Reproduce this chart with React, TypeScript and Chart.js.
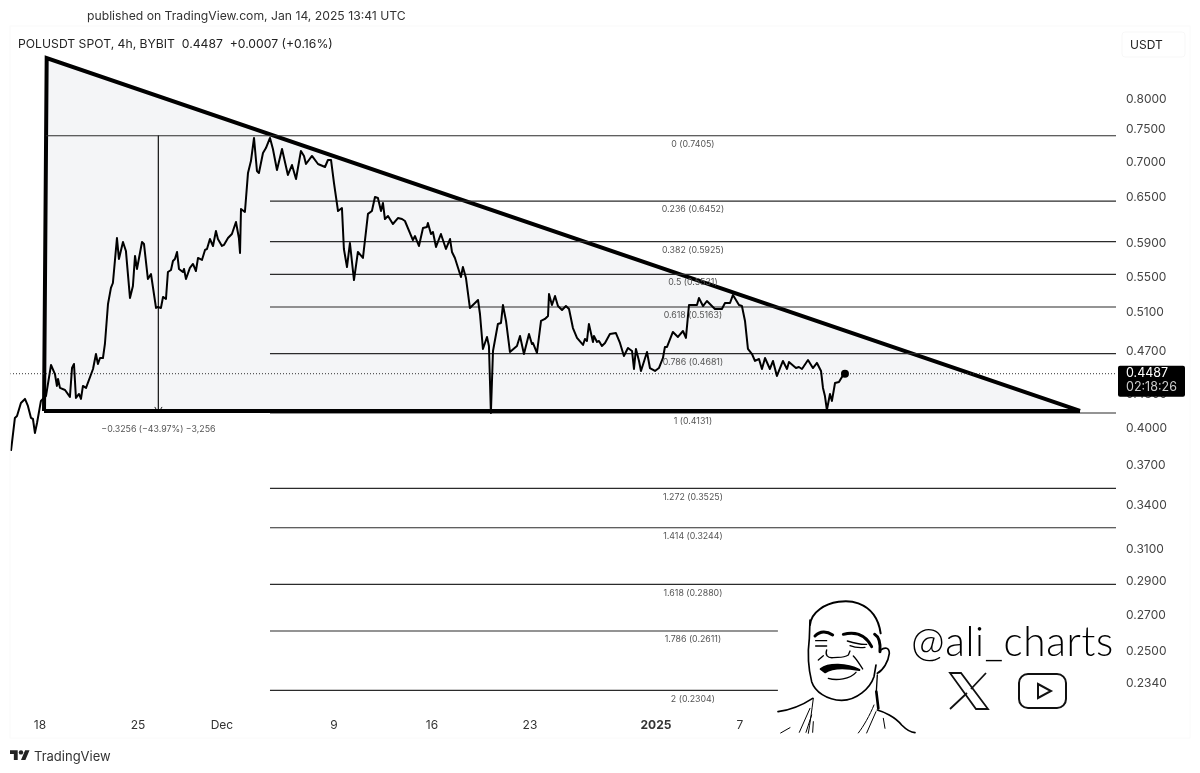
import { useEffect, useRef } from "react";
import { Chart, registerables } from "chart.js";

Chart.register(...registerables);

const FONT = "Inter, 'Noto Sans', sans-serif";

// days counted from Nov 18
const priceDays = [
  -2.07, -1.79, -1.64, -1.36, -1.07, -0.86, -0.64, -0.5, -0.36, -0.21, 0.07, 0.21, 0.43, 0.79, 1.07, 1.21, 1.29, 1.43, 1.79, 2.14,
  2.29, 2.43, 2.57, 2.79, 2.93, 3.07, 3.29, 3.79, 4, 4.14, 4.29, 4.5, 4.64, 4.86, 5.07, 5.21, 5.5, 5.64, 5.93, 6.14,
  6.43, 6.64, 6.79, 6.93, 7.29, 7.43, 7.71, 7.93, 8.29, 8.43, 8.64, 8.79, 9, 9.14, 9.36, 9.5, 9.64, 9.79, 9.93, 10.21,
  10.29, 10.43, 10.71, 10.93, 11.14, 11.29, 11.57, 11.79, 11.93, 12.14, 12.36, 12.57, 12.71, 13, 13.14, 13.43, 13.71, 14, 14.21, 14.29,
  14.36, 14.64, 14.86, 15.07, 15.29, 15.5, 15.64, 15.93, 16.14, 16.43, 16.64, 16.93, 17.29, 17.71, 18, 18.29, 18.64, 18.86, 19, 19.43,
  19.86, 20.36, 20.57, 20.79, 21, 21.29, 21.57, 21.71, 21.93, 22.14, 22.43, 22.71, 23.07, 23.29, 23.43, 23.71, 23.93, 24.14, 24.36, 24.5,
  24.64, 24.86, 25.21, 25.57, 25.86, 26.07, 26.64, 26.79, 27.07, 27.36, 27.64, 27.71, 27.93, 28.07, 28.29, 28.64, 29, 29.29, 29.43, 29.64,
  30.07, 30.21, 30.43, 30.71, 31.29, 31.43, 31.64, 31.93, 32.07, 32.21, 32.36, 32.71, 32.93, 33.07, 33.29, 33.57, 34.07, 34.29, 34.57, 34.93,
  35.14, 35.21, 35.5, 35.79, 36.07, 36.29, 36.36, 36.57, 36.79, 37, 37.29, 37.57, 37.79, 38.07, 38.36, 38.79, 38.93, 39.07, 39.21, 39.5,
  39.57, 39.79, 39.93, 40.14, 40.36, 40.71, 41.14, 41.43, 41.71, 42, 42.29, 42.43, 42.57, 42.79, 42.93, 43.36, 43.57, 43.93, 44.21, 44.5,
  44.64, 44.79, 45.21, 45.57, 45.93, 46.14, 46.36, 46.93, 47.07, 47.36, 47.64, 48.21, 48.71, 48.93, 49.29, 49.5, 49.93, 50.14, 50.36, 50.57,
  50.86, 51.07, 51.36, 51.57, 51.79, 52.14, 52.36, 52.64, 53.07, 53.36, 53.5, 54, 54.21, 54.43, 54.86, 55.21, 55.5, 55.79, 55.93, 56.07,
  56.21, 56.43, 56.57, 56.79, 57.07, 57.36, 57.5,
];

const prices = [
  0.3814, 0.4088, 0.4105, 0.4219, 0.4255, 0.4193, 0.4088, 0.4079, 0.3961, 0.4045, 0.4237, 0.4255, 0.4281, 0.457, 0.4484, 0.4373, 0.4438, 0.4355, 0.4336, 0.4273,
  0.4541, 0.458, 0.4264, 0.43, 0.4255, 0.4373, 0.4355, 0.4532, 0.4677, 0.458, 0.4638, 0.4638, 0.4777, 0.5196, 0.5375, 0.5431, 0.597, 0.5713, 0.5921, 0.581,
  0.5263, 0.5397, 0.575, 0.5594, 0.5921, 0.5896, 0.5477, 0.5535, 0.5153, 0.5164, 0.5153, 0.5274, 0.5251, 0.5558, 0.5582, 0.5689, 0.5713, 0.5798, 0.5594, 0.5558,
  0.5594, 0.5477, 0.5606, 0.5653, 0.557, 0.5725, 0.5701, 0.5822, 0.5834, 0.5958, 0.5871, 0.6059, 0.5958, 0.5871, 0.5884, 0.597, 0.6021, 0.6175, 0.597, 0.5786,
  0.6347, 0.6307, 0.6847, 0.7021, 0.737, 0.6875, 0.6847, 0.7141, 0.7215, 0.737, 0.72, 0.689, 0.72, 0.6818, 0.6962, 0.676, 0.7171, 0.7096, 0.6977, 0.7096,
  0.6977, 0.6933, 0.7036, 0.7036, 0.6704, 0.632, 0.636, 0.5834, 0.5617, 0.5908, 0.5465, 0.5798, 0.5725, 0.6059, 0.6281, 0.632, 0.6508, 0.6495, 0.632, 0.6427,
  0.6214, 0.6254, 0.6149, 0.6227, 0.6214, 0.6188, 0.5945, 0.5995, 0.5871, 0.6098, 0.6111, 0.6162, 0.6021, 0.6046, 0.5859, 0.6021, 0.5834, 0.5958, 0.5798, 0.5725,
  0.55, 0.5617, 0.5488, 0.5153, 0.524, 0.5088, 0.4727, 0.4848, 0.4757, 0.4131, 0.4707, 0.4982, 0.4993, 0.5185, 0.5014, 0.4697, 0.4757, 0.4858, 0.4677, 0.4878,
  0.4777, 0.4787, 0.4687, 0.5014, 0.5035, 0.5067, 0.5307, 0.5185, 0.5285, 0.5174, 0.5131, 0.5174, 0.5142, 0.494, 0.4838, 0.4767, 0.4828, 0.4807, 0.4982, 0.4797,
  0.4858, 0.4797, 0.4807, 0.4757, 0.4787, 0.4878, 0.4888, 0.4787, 0.4658, 0.4737, 0.4707, 0.4532, 0.4727, 0.4609, 0.4513, 0.4697, 0.4541, 0.4513, 0.4541, 0.4638,
  0.4747, 0.4747, 0.4899, 0.4848, 0.4909, 0.4838, 0.5185, 0.5185, 0.5263, 0.5174, 0.5229, 0.5142, 0.5142, 0.5207, 0.5207, 0.5296, 0.5185, 0.5174, 0.5014, 0.4727,
  0.4677, 0.4609, 0.4628, 0.4532, 0.4638, 0.4532, 0.4609, 0.4466, 0.4609, 0.4532, 0.4599, 0.4541, 0.4551, 0.4532, 0.4618, 0.4541, 0.459, 0.4513, 0.4355, 0.4281,
  0.4157, 0.43, 0.4237, 0.44, 0.441, 0.4473, 0.4487,
];

const lastPrice = 0.4487;

const fibRatios = ["0", "0.236", "0.382", "0.5", "0.618", "0.786", "1", "1.272", "1.414", "1.618", "1.786", "2"];
const fibPrices = [0.7405, 0.6452, 0.5925, 0.5531, 0.5163, 0.4681, 0.4131, 0.3525, 0.3244, 0.288, 0.2611, 0.2304];
const fibStartDays = [0.43, 16.43, 16.43, 16.43, 16.43, 16.43, 16.43, 16.43, 16.43, 16.43, 16.43, 16.43];
const fibEndDays = [76.86, 76.86, 76.86, 76.86, 76.86, 76.86, 76.86, 76.86, 76.86, 76.86, 52.71, 52.71];

const triangleDays = [0.29, 0.48, 74.29];
const trianglePrices = [0.4149, 0.872, 0.4149];
const baseDays = [0.29, 74.29];
const basePrices = [0.4149, 0.4149];

const measureDays = [8.46, 8.46];
const measurePrices = [0.7405, 0.4131];
const arrowDays = [8.2, 8.46, 8.72];
const arrowPrices = [0.4184, 0.4131, 0.4184];

const yTicks = [0.8, 0.75, 0.7, 0.65, 0.59, 0.55, 0.51, 0.47, 0.43, 0.4, 0.37, 0.34, 0.31, 0.29, 0.27, 0.25, 0.234];
const xTickDays = [0, 7, 13, 21, 28, 35, 44, 50];
const xTickLabels = ["18", "25", "Dec", "9", "16", "23", "2025", "7"];

const zip = (xs: number[], ys: number[]) => xs.map((x, i) => ({ x, y: ys[i] }));

// text that sits on the chart: fib labels, measure label, last price tag
const annotationPlugin = {
  id: "annotations",
  afterDraw(chart: any) {
    const { ctx, scales } = chart;
    const x = scales.x;
    const y = scales.y;
    ctx.save();
    ctx.textBaseline = "middle";
    ctx.textAlign = "center";
    ctx.font = "8.8px " + FONT;
    ctx.fillStyle = "#555";
    const fibLabelX = x.getPixelForValue(46.64);
    fibRatios.forEach((r, i) => {
      ctx.fillText(`${r} (${fibPrices[i].toFixed(4)})`, fibLabelX, y.getPixelForValue(fibPrices[i]) + 8.5);
    });
    ctx.fillText("\u22120.3256 (\u221243.97%) \u22123,256", x.getPixelForValue(8.46), y.getPixelForValue(0.4131) + 16);

    const tagY = y.getPixelForValue(lastPrice);
    ctx.fillStyle = "#000";
    ctx.beginPath();
    ctx.roundRect(1118, tagY - 8, 67, 31, 2);
    ctx.fill();
    ctx.textAlign = "left";
    ctx.font = "12.5px " + FONT;
    ctx.fillStyle = "#fff";
    ctx.fillText(lastPrice.toFixed(4), 1126, tagY);
    ctx.fillStyle = "#ccc";
    ctx.fillText("02:18:26", 1126, tagY + 14);
    ctx.restore();
  },
};

const Watermark = () => (
  <svg width={1200} height={773} style={{ position: "absolute", left: 0, top: 0, pointerEvents: "none" }}>
    <rect x={10} y={26} width={1180} height={712} fill="none" stroke="#fafafa" />
    <rect x={1122} y={32} width={63} height={25} rx={3} fill="#fff" stroke="#f7f7f7" />
    <text x={87} y={20} fontFamily={FONT} fontSize={12.2} fill="#333">
      published on TradingView.com, Jan 14, 2025 13:41 UTC
    </text>
    <text x={18} y={47.5} fontFamily={FONT} fontSize={12.2} fill="#222" xmlSpace="preserve">
      POLUSDT SPOT, 4h, BYBIT  0.4487  +0.0007 (+0.16%)
    </text>
    <text x={1130} y={49} fontFamily={FONT} fontSize={12} fill="#222">
      USDT
    </text>
    <text x={34} y={761} fontFamily={FONT} fontSize={13} fill="#333">
      TradingView
    </text>
    <g transform="translate(10,748) scale(0.55)" fill="#222">
      <path d="M14 22H7V11H0V4h14v18zM28 22h-8l7.5-18h8L28 22z" />
      <circle cx={20} cy={8} r={4} />
    </g>
    <text x={911} y={656} fontFamily="Lato, sans-serif" fontWeight={300} fontSize={40.5} letterSpacing={0.65} fill="#000">
      @ali_charts
    </text>
    <g fill="none" stroke="#111" strokeWidth={1.8}>
      <path d="M950 673L961 673L988 709L976 709Z" />
      <path d="M986 673L971 689M967 693L950 709" />
    </g>
    <rect x={1019} y={674} width={47} height={34} rx={9} fill="none" stroke="#111" strokeWidth={2} />
    <path d="M1038 684L1051 691L1038 698Z" fill="none" stroke="#111" strokeWidth={2} />
    <g transform="translate(770,595) scale(0.3333)" fill="none" stroke="#000" strokeLinecap="round" strokeLinejoin="round">
      <path strokeWidth={6} d="M120 90C122 70 132 55 150 42C180 20 230 12 265 25C300 38 325 65 332 115" />
      <path strokeWidth={5} d="M120 75L118 130C113 170 115 220 125 260C135 290 170 315 215 316C260 316 300 280 312 245L318 210" />
      <path strokeWidth={9} d="M314 118C326 125 332 140 330 170" />
      <path strokeWidth={5} d="M332 165C345 155 358 158 358 175C355 200 340 225 322 235" />
      <path strokeWidth={4} d="M322 240L319 290" />
      <path strokeWidth={8} d="M319 290L325 340" />
      <path strokeWidth={9} d="M135 123C150 108 170 108 188 120" />
      <path strokeWidth={9} d="M220 118C250 110 285 115 305 155" />
      <path strokeWidth={4} d="M137 137L170 137M137 153L170 153M232 138C255 145 275 150 290 148M240 152C255 158 275 158 285 157" />
      <path strokeWidth={4} d="M170 165C165 180 172 190 190 188C205 186 220 190 235 180L240 168" />
      <path strokeWidth={4} d="M145 195L160 182M250 183C262 195 270 210 278 222" />
      <path strokeWidth={6} fill="#000" d="M152 222C175 205 230 205 268 225C240 220 190 215 165 232Z" />
      <path strokeWidth={4} d="M175 250C200 258 240 252 258 232" />
      <path strokeWidth={5} d="M24 350C60 345 90 335 128 310" />
      <path strokeWidth={3} d="M130 310C125 350 120 385 115 415M120 340L88 412M125 360L108 412M130 380L128 412M32 414L60 398" />
      <path strokeWidth={3} d="M312 330C300 360 280 395 265 414M318 350L290 414M340 370L345 400" />
      <path strokeWidth={5} d="M322 345C340 350 375 365 395 390C410 405 420 412 435 413" />
    </g>
  </svg>
);

const App = () => {
  const chartRef = useRef<HTMLCanvasElement | null>(null);
  const chartInstanceRef = useRef<Chart | null>(null);

  useEffect(() => {
    if (!chartRef.current) return;
    const fibDatasets = fibPrices.map((p, i) => ({
      data: zip([fibStartDays[i], fibEndDays[i]], [p, p]),
      borderColor: "#2b2b2b",
      borderWidth: 1.1,
      pointRadius: 0,
      order: 4,
    }));

    chartInstanceRef.current = new Chart(chartRef.current, {
      type: "line",
      data: {
        datasets: [
          {
            data: zip(priceDays, prices),
            borderColor: "#000",
            backgroundColor: "#000",
            borderWidth: 2,
            borderJoinStyle: "round",
            pointRadius: (c: any) => (c.dataIndex === priceDays.length - 1 ? 3 : 0),
            order: 1,
          },
          {
            data: zip([-2.14, 76.86], [lastPrice, lastPrice]),
            borderColor: "#333",
            borderWidth: 1,
            borderDash: [1, 2],
            pointRadius: 0,
            order: 3,
          },
          ...fibDatasets,
          {
            data: zip(measureDays, measurePrices),
            borderColor: "#222",
            borderWidth: 1,
            pointRadius: 0,
            order: 3,
          },
          {
            data: zip(arrowDays, arrowPrices),
            borderColor: "#222",
            borderWidth: 1,
            pointRadius: 0,
            order: 3,
          },
          {
            data: zip(baseDays, basePrices),
            borderColor: "#000",
            borderWidth: 4,
            pointRadius: 0,
            order: 2,
          },
          {
            data: zip(triangleDays, trianglePrices),
            borderColor: "#000",
            backgroundColor: "#f4f5f7",
            borderWidth: 4,
            pointRadius: 0,
            fill: { value: 0.4149 },
            order: 5,
          },
        ],
      } as any,
      options: {
        responsive: false,
        animation: false,
        layout: { padding: { left: 10, top: 31, right: 0, bottom: 0 } },
        plugins: { legend: { display: false }, tooltip: { enabled: false } },
        scales: {
          x: {
            type: "linear",
            min: -2.14,
            max: 76.86,
            bounds: "data",
            grid: { display: false, drawTicks: false },
            border: { display: false },
            afterBuildTicks: (axis: any) => {
              axis.ticks = xTickDays.map((value) => ({ value }));
            },
            afterFit: (axis: any) => {
              axis.height = 57;
            },
            ticks: {
              autoSkip: false,
              maxRotation: 0,
              padding: 2,
              color: "#333",
              font: (c: any) => ({ size: 12, family: FONT, weight: c.index === 6 ? "bold" : "normal" }),
              callback: (_v: any, i: number) => xTickLabels[i],
            },
          },
          y: {
            type: "logarithmic",
            position: "right",
            min: 0.2183,
            max: 0.9231,
            bounds: "data",
            grid: { display: false, drawTicks: false },
            border: { display: false },
            afterBuildTicks: (axis: any) => {
              axis.ticks = yTicks.map((value) => ({ value }));
            },
            afterFit: (axis: any) => {
              axis.width = 84;
            },
            ticks: {
              autoSkip: false,
              padding: 10,
              color: "#444",
              font: { size: 12, family: FONT },
              callback: (v: any) => Number(v).toFixed(4),
            },
          },
        },
      } as any,
      plugins: [annotationPlugin],
    });

    return () => {
      if (chartInstanceRef.current) {
        chartInstanceRef.current.destroy();
      }
    };
  }, []);

  return (
    <div style={{ position: "fixed", left: 0, top: 0, width: 1200, height: 773, background: "#fff" }}>
      <canvas ref={chartRef} width={1200} height={773} style={{ display: "block" }} />
      <Watermark />
    </div>
  );
};

export default App;
